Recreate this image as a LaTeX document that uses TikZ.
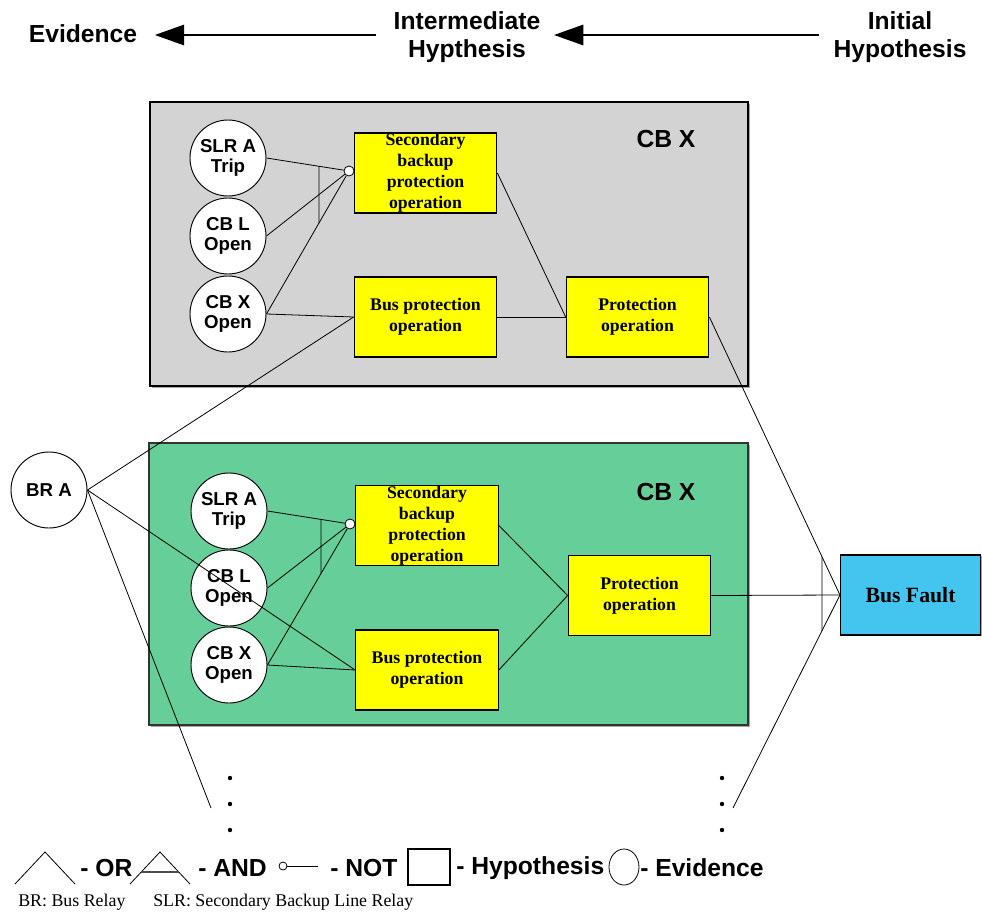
\documentclass[tikz,border=0pt]{standalone}
\usepackage{fontspec}
\setmainfont{Liberation Serif}
\newfontfamily\hsans{Liberation Sans}
\usetikzlibrary{arrows.meta}

\definecolor{panelgray}{HTML}{D3D3D3}
\definecolor{panelgreen}{HTML}{66CF99}
\definecolor{hypyellow}{HTML}{FFFF00}
\definecolor{faultblue}{HTML}{44C5F0}

\begin{document}
\begin{tikzpicture}[x=0.75pt,y=-0.75pt,
  every node/.style={inner sep=0pt},
  headtext/.style={align=center,font=\hsans\bfseries\fontsize{18.5}{20.5}\selectfont},
  legtext/.style={anchor=west,font=\hsans\bfseries\fontsize{18.5}{20}\selectfont},
  notetext/.style={anchor=west,font=\fontsize{13.4}{14}\selectfont},
  paneltitle/.style={font=\hsans\bfseries\fontsize{18.5}{20}\selectfont},
  evid/.style={circle,draw,line width=0.7pt,fill=white,minimum size=57pt,align=center,
    font=\hsans\bfseries\fontsize{14}{14.5}\selectfont},
  hyp/.style={rectangle,draw,line width=0.8pt,fill=hypyellow,minimum width=107pt,
    minimum height=60pt,align=center,font=\bfseries\fontsize{13.3}{15.8}\selectfont},
  notgate/.style={circle,draw,line width=0.6pt,fill=white,minimum size=7.5pt},
  link/.style={line width=0.6pt},
  hdarrow/.style={line width=2.2pt,-{Triangle[length=22pt,width=15pt]}},
  panel/.style={draw,line width=0.8pt},
  shade/.style={fill=black!35}
]
\useasboundingbox (0,0) rectangle (982,914);

% ---- header: direction of reasoning ----
\node[headtext] (hEvid) at (83,34) {Evidence};
\node[headtext] (hInter) at (467,37) {Intermediate\\Hypthesis};
\node[headtext] (hInit) at (900,37) {Initial\\Hypothesis};
\draw[hdarrow,shorten <=13pt,shorten >=13pt] ([yshift=1.5pt]hInter.west) -- ([yshift=1.5pt]hInter.west -| hEvid.east);
\draw[hdarrow,shorten <=11pt,shorten >=10pt] ([yshift=1.5pt]hInit.west) -- ([yshift=1.5pt]hInit.west -| hInter.east);

% ---- panels ----
\fill[shade] (152,104) rectangle (750,388);
\draw[panel,fill=panelgray] (150,102) rectangle (748,386);
\fill[shade] (151,445) rectangle (750,727);
\draw[panel,fill=panelgreen,draw=black!80] (149,443) rectangle (748,725);
\node[paneltitle] (t1) at (666,139) {CB X};
\node[paneltitle] (t2) at (666,492) {CB X};

% ---- upper panel ----
\node[evid] (slrA1) at (228,158) {SLR A\\Trip};
\node[evid] (cbL1) at (228,236) {CB L\\Open};
\node[evid] (cbX1) at (228,314) {CB X\\Open};
\node[hyp] (sec1) at (425.5,173) {Secondary\\backup\\protection\\operation};
\node[hyp] (bus1) at (425.5,317) {Bus protection\\operation};
\node[hyp] (prot1) at (637.5,317) {Protection\\operation};
\node[notgate] (not1) at (349,171) {};

% ---- lower panel ----
\node[evid] (slrA2) at (229,511) {SLR A\\Trip};
\node[evid] (cbL2) at (229,588) {CB L\\Open};
\node[evid] (cbX2) at (229,665) {CB X\\Open};
\node[hyp] (sec2) at (427,525.5) {Secondary\\backup\\protection\\operation};
\node[hyp] (bus2) at (427,670) {Bus protection\\operation};
\node[hyp] (prot2) at (639.5,595.5) {Protection\\operation};
\node[notgate] (not2) at (350,524) {};

% ---- outside evidence and initial hypothesis ----
\node[evid] (brA) at (49,490) {BR A};
\fill[shade] (842,556) rectangle (983,636);
\node[rectangle,draw,line width=0.8pt,fill=faultblue,minimum width=105pt,minimum height=60pt,
  font=\bfseries\fontsize{16.3}{18}\selectfont] (fault) at (910.5,595) {Bus Fault};
\coordinate (dl) at (211,808);
\coordinate (dr) at (733,808);

% ---- connectors, upper panel ----
\draw[link] (slrA1.east) -- (not1);
\draw[link] (cbL1.east) -- (not1);
\draw[link] (cbX1.east) -- (not1);
\draw[link] (intersection of slrA1.east--not1.center and 319,0--319,100)
         -- (intersection of cbX1.east--not1.center and 319,0--319,100);
\draw[link] (cbX1.east) -- (bus1.west);
\draw[link] (sec1.east) -- (prot1.west);
\draw[link] (bus1.east) -- (prot1.west);

% ---- connectors, lower panel ----
\draw[link] (slrA2.east) -- (not2);
\draw[link] (cbL2.east) -- (not2);
\draw[link] (cbX2.east) -- (not2);
\draw[link] (intersection of slrA2.east--not2.center and 321,0--321,100)
         -- (intersection of cbX2.east--not2.center and 321,0--321,100);
\draw[link] (cbX2.east) -- (bus2.west);
\draw[link] (sec2.east) -- (prot2.west);
\draw[link] (bus2.east) -- (prot2.west);

% ---- BR A fan-out ----
\draw[link] (brA.east) -- (bus1.west);
\draw[link] (brA.east) -- (bus2.west);
\draw[link] (brA.east) -- (dl);

% ---- into the bus fault (AND) ----
\draw[link] (prot1.east) -- (fault.west);
\draw[link] (prot2.east) -- (fault.west);
\draw[link] (dr) -- (fault.west);
\draw[link] (intersection of prot1.east--fault.west and 822,0--822,100)
         -- (intersection of dr--fault.west and 822,0--822,100);

% ---- continuation dots ----
\foreach \yy in {778,804,830} {
  \fill (230,\yy) circle (2.2);
  \fill (722,\yy) circle (2.2);
}

% ---- legend ----
\draw[line width=0.6pt] (15,884) -- (45,852) -- (75,884);
\node[legtext] (lOr) at (80,868) {- OR};
\draw[line width=0.6pt] (130,884) -- (160,852) -- (190,884);
\draw[line width=1.2pt,black!70] (141.25,872) -- (178.75,872);
\node[legtext] (lAnd) at (198,868) {- AND};
\draw[line width=0.6pt] (283,866) circle (4);
\draw[line width=0.6pt] (287,866) -- (318,866);
\node[legtext] (lNot) at (330,868) {- NOT};
\draw[line width=0.8pt] (408,849) rectangle (450,885);
\node[legtext] (lHyp) at (456,868) {- Hypothesis};
\draw[line width=0.6pt] (624,867) ellipse (15 and 18);
\node[legtext] (lEvid) at (640,868) {- Evidence};
\node[notetext] (n1) at (18,902) {BR: Bus Relay};
\node[notetext] (n2) at (153,902) {SLR: Secondary Backup Line Relay};
\end{tikzpicture}
\end{document}
